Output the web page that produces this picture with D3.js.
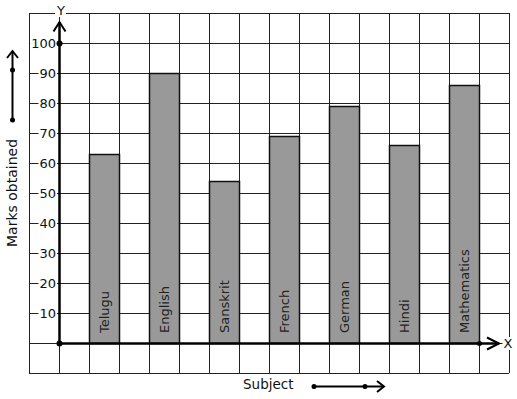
<!DOCTYPE html>
<html>
<head>
<meta charset="utf-8">
<script src="https://cdn.jsdelivr.net/npm/d3@7"></script>
<style>
  html, body { margin: 0; padding: 0; background: #fff; }
  svg { display: block; font-family: "DejaVu Sans", sans-serif; }
</style>
</head>
<body>
<svg id="chart"></svg>
<script>
const subjects = ["Telugu", "English", "Sanskrit", "French", "German", "Hindi", "Mathematics"];
const marks = [63, 90, 54, 69, 79, 66, 86];
const yTicks = [10, 20, 30, 40, 50, 60, 70, 80, 90, 100];

const W = 517, H = 399;
const svg = d3.select("#chart").attr("width", W).attr("height", H);

const y = d3.scaleLinear().domain([0, 100]).range([343, 43]);
const x = d3.scaleBand().domain(subjects).range([59, 509]).paddingInner(0.5).paddingOuter(0.5);
const col = d3.scaleLinear().domain([0, 16]).range([29, 509]);

// grid paper
const grid = svg.append("g").attr("stroke", "#222").attr("stroke-width", 1).attr("shape-rendering", "crispEdges");
grid.selectAll("line.h")
    .data(d3.range(-10, 111, 10))
    .join("line")
    .attr("x1", col(0)).attr("x2", col(16))
    .attr("y1", d => y(d) + 0.5).attr("y2", d => y(d) + 0.5);
grid.selectAll("line.v")
    .data(d3.range(0, 17))
    .join("line")
    .attr("x1", d => col(d) + 0.5).attr("x2", d => col(d) + 0.5)
    .attr("y1", y(110)).attr("y2", y(-10));

// bars
svg.append("g")
    .selectAll("rect")
    .data(subjects)
    .join("rect")
    .attr("x", d => x(d) + 0.5)
    .attr("y", (d, i) => y(marks[i]) + 0.5)
    .attr("width", x.bandwidth())
    .attr("height", (d, i) => y(0) - y(marks[i]))
    .attr("fill", "#999")
    .attr("stroke", "#111")
    .attr("stroke-width", 1.5);

// bar labels
svg.append("g")
    .attr("font-size", 13)
    .attr("fill", "#222")
    .selectAll("text")
    .data(subjects)
    .join("text")
    .attr("transform", d => `translate(${x(d) + x.bandwidth() / 2 + 0.5},${y(0) - 10}) rotate(-90)`)
    .attr("dy", "0.35em")
    .text(d => d);

// helper: text with white backing
function labelled(g, txt, attrs) {
    const t = g.append("text").text(txt);
    Object.entries(attrs).forEach(([k, v]) => t.attr(k, v));
    const b = t.node().getBBox();
    g.insert("rect", () => t.node())
        .attr("x", b.x - 1).attr("y", b.y + 1)
        .attr("width", b.width + 2).attr("height", b.height - 2)
        .attr("fill", "#fff");
    return t;
}

// y tick labels
const ticks = svg.append("g").attr("font-size", 13).attr("fill", "#111");
yTicks.forEach(v => {
    labelled(ticks, v, { x: 56, y: y(v), dy: "0.36em", "text-anchor": "end" });
});

// axes
const axes = svg.append("g").attr("stroke", "#000").attr("fill", "none").attr("stroke-width", 2.5);
axes.append("line").attr("x1", 59.5).attr("x2", 59.5).attr("y1", y(0) + 0.5).attr("y2", y(107));
axes.append("line").attr("x1", 59.5).attr("x2", 499).attr("y1", y(0) + 0.5).attr("y2", y(0) + 0.5);
axes.append("path").attr("stroke-width", 2).attr("d", `M53.5,${y(104) + 0.5}L59.5,${y(107)}L65.5,${y(104) + 0.5}`);
axes.append("path").attr("stroke-width", 2).attr("d", `M487,${y(0) - 5.5}L499,${y(0) + 0.5}L487,${y(0) + 6.5}`);

const dots = svg.append("g").attr("fill", "#000");
dots.append("circle").attr("cx", 59.5).attr("cy", y(0) + 0.5).attr("r", 3);
dots.append("circle").attr("cx", 59.5).attr("cy", y(100) + 0.5).attr("r", 3);
dots.append("circle").attr("cx", 479.5).attr("cy", y(0) + 0.5).attr("r", 2.5);

// axis letters
const letters = svg.append("g").attr("font-size", 13).attr("fill", "#111");
labelled(letters, "Y", { x: 61, y: 15, "text-anchor": "middle" });
labelled(letters, "X", { x: 508, y: y(0) + 5, "text-anchor": "middle" });

// axis titles
svg.append("text")
    .attr("transform", `translate(17,193) rotate(-90)`)
    .attr("text-anchor", "middle")
    .attr("font-size", 14)
    .attr("fill", "#111")
    .text("Marks obtained");

svg.append("text")
    .attr("x", 243).attr("y", 389)
    .attr("font-size", 13.5)
    .attr("fill", "#111")
    .text("Subject");

// direction arrows
const dir = svg.append("g").attr("stroke", "#000").attr("stroke-width", 2).attr("fill", "none");
dir.append("line").attr("x1", 12.5).attr("x2", 12.5).attr("y1", 120).attr("y2", 51);
dir.append("path").attr("d", "M7,58L12.5,51L18,58");
dir.append("line").attr("x1", 314).attr("x2", 384).attr("y1", 386.5).attr("y2", 386.5);
dir.append("path").attr("d", "M377,381L384,386.5L377,392");
const dd = svg.append("g").attr("fill", "#000");
[[12.5, 120], [12.5, 70], [314, 386.5], [365, 386.5]].forEach(([cx, cy]) =>
    dd.append("circle").attr("cx", cx).attr("cy", cy).attr("r", 2.5));
</script>
</body>
</html>
